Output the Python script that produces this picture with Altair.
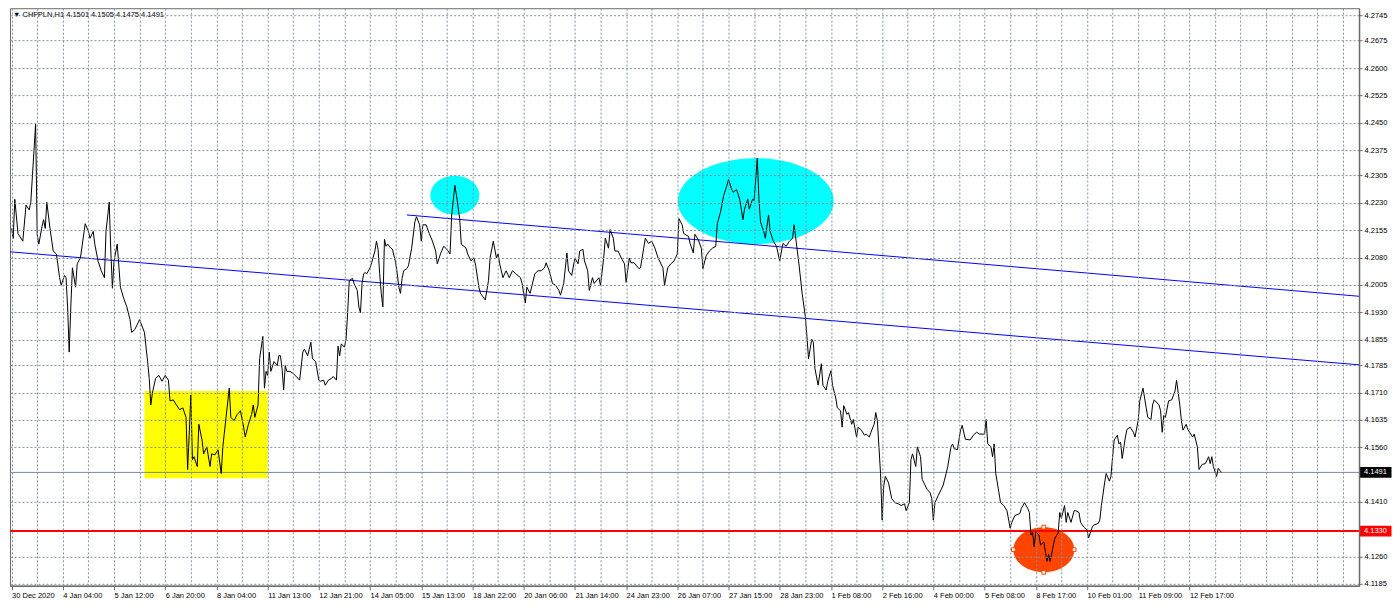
import altair as alt
import pandas as pd

# ---------------- data ----------------
symbol = "CHFPLN,H1"
last_bar_ohlc = [4.1501, 4.1505, 4.1475, 4.1491]

hour_index = [
    0, 1, 2, 4, 7, 9, 11, 12, 14, 15,
    16, 17, 19, 20, 21, 22, 24, 26, 28, 30,
    31, 33, 34, 35, 36, 37, 38, 40, 41, 43,
    46, 48, 49, 51, 52, 54, 56, 58, 59, 61,
    62, 63, 64, 66, 68, 70, 72, 74, 75, 77,
    80, 83, 85, 86, 87, 88, 90, 92, 94, 96,
    98, 99, 101, 103, 105, 107, 109, 110, 111, 112,
    113, 114, 116, 117, 119, 120, 122, 124, 125, 127,
    129, 131, 132, 134, 136, 137, 139, 141, 143, 145,
    146, 148, 150, 151, 152, 154, 155, 157, 158, 159,
    160, 161, 162, 164, 166, 167, 168, 169, 170, 171,
    172, 174, 176, 179, 180, 182, 183, 185, 186, 187,
    188, 190, 192, 193, 195, 196, 198, 200, 201, 203,
    204, 205, 206, 208, 209, 210, 211, 213, 214, 216,
    217, 218, 219, 220, 221, 222, 224, 225, 227, 228,
    229, 230, 231, 232, 233, 234, 235, 237, 238, 240,
    241, 242, 243, 244, 245, 247, 248, 250, 252, 253,
    255, 256, 257, 259, 261, 263, 265, 266, 268, 270,
    272, 274, 275, 277, 278, 280, 281, 284, 285, 287,
    289, 290, 292, 293, 296, 298, 299, 301, 303, 304,
    305, 307, 309, 311, 313, 315, 318, 319, 321, 322,
    324, 327, 329, 331, 333, 334, 336, 338, 340, 342,
    343, 345, 347, 348, 350, 352, 354, 355, 357, 358,
    360, 361, 363, 364, 367, 368, 370, 371, 373, 374,
    376, 377, 379, 381, 383, 384, 386, 387, 389, 392,
    393, 395, 396, 398, 400, 402, 404, 407, 408, 410,
    412, 414, 416, 417, 419, 420, 423, 424, 426, 427,
    429, 431, 432, 434, 436, 438, 440, 441, 443, 445,
    447, 448, 450, 451, 453, 455, 457, 458, 460, 461,
    463, 464, 466, 467, 468, 470, 471, 473, 474, 476,
    478, 480, 482, 484, 486, 488, 489, 491, 492, 494,
    496, 497, 498, 500, 501, 502, 504, 506, 507, 509,
    510, 512, 513, 515, 516, 518, 519, 520, 522, 523,
    525, 526, 528, 529, 531, 533, 534, 536, 537, 539,
    540, 541, 543, 544, 545, 546, 548, 550, 552, 554,
    556, 558, 559, 561, 562, 563, 565, 566, 568, 569,
    571, 572, 574, 575, 576, 577, 579, 581, 582, 584,
    585, 587, 588, 589, 591, 593, 594, 596, 599, 601,
    603, 605, 608, 609, 610, 612, 613, 614, 615, 617,
    618, 620, 622, 624, 625, 627, 630, 631, 633, 635,
    636, 637, 638, 639, 640, 642, 643, 645, 646, 647,
    648, 649, 651, 652, 654, 655, 656, 658, 659, 660,
    662, 664, 665, 667, 668, 670, 672, 673, 675, 676,
    679, 680, 681, 683, 684, 686, 687, 688, 689, 691,
    692, 693, 694, 696, 697, 699, 701, 702, 704, 705,
    707, 709, 710, 712, 713, 714, 717, 718, 719, 720,
    721, 723, 725, 727, 728, 730, 731, 732, 734, 735,
    738, 739, 741, 742, 744, 746, 748, 749, 750, 751,
    753, 754, 756,
]

close = [
    4.2160, 4.2133, 4.2240, 4.2146, 4.2125, 4.2224, 4.2211, 4.2232, 4.2374, 4.2447,
    4.2144, 4.2117, 4.2165, 4.2184, 4.2160, 4.2232, 4.2160, 4.2098, 4.2090, 4.2025,
    4.2004, 4.2031, 4.2025, 4.1945, 4.1821, 4.1945, 4.2052, 4.1999, 4.2063, 4.2079,
    4.2173, 4.2152, 4.2133, 4.2152, 4.2117, 4.2071, 4.2044, 4.2025, 4.2152, 4.2232,
    4.2098, 4.1996, 4.2071, 4.2117, 4.1999, 4.1969, 4.1945, 4.1910, 4.1875, 4.1883,
    4.1910, 4.1875, 4.1795, 4.1749, 4.1676, 4.1709, 4.1749, 4.1757, 4.1741, 4.1757,
    4.1744, 4.1687, 4.1690, 4.1676, 4.1663, 4.1668, 4.1642, 4.1499, 4.1596, 4.1703,
    4.1526, 4.1534, 4.1507, 4.1623, 4.1580, 4.1542, 4.1561, 4.1507, 4.1542, 4.1539,
    4.1553, 4.1488, 4.1561, 4.1642, 4.1722, 4.1642, 4.1633, 4.1650, 4.1660, 4.1615,
    4.1588, 4.1623, 4.1650, 4.1676, 4.1642, 4.1676, 4.1803, 4.1864, 4.1722, 4.1768,
    4.1757, 4.1821, 4.1768, 4.1795, 4.1784, 4.1811, 4.1811, 4.1776, 4.1717, 4.1784,
    4.1768, 4.1768, 4.1762, 4.1749, 4.1744, 4.1821, 4.1829, 4.1811, 4.1829, 4.1848,
    4.1803, 4.1795, 4.1744, 4.1741, 4.1744, 4.1730, 4.1744, 4.1749, 4.1754, 4.1744,
    4.1837, 4.1811, 4.1843, 4.1835, 4.1856, 4.1929, 4.2017, 4.2023, 4.2009, 4.1990,
    4.1945, 4.1929, 4.2009, 4.2036, 4.2039, 4.2036, 4.2052, 4.2066, 4.2098, 4.2125,
    4.2103, 4.2036, 4.1982, 4.1945, 4.2130, 4.2111, 4.2117, 4.2106, 4.2103, 4.2066,
    4.2036, 4.1999, 4.1982, 4.2023, 4.2044, 4.2050, 4.2058, 4.2106, 4.2178, 4.2192,
    4.2170, 4.2125, 4.2170, 4.2170, 4.2146, 4.2125, 4.2098, 4.2063, 4.2090, 4.2111,
    4.2103, 4.2090, 4.2197, 4.2278, 4.2251, 4.2187, 4.2117, 4.2106, 4.2090, 4.2071,
    4.2079, 4.2058, 4.1999, 4.1982, 4.1964, 4.2017, 4.2079, 4.2125, 4.2079, 4.2090,
    4.2063, 4.2025, 4.2044, 4.2025, 4.2044, 4.2036, 4.2025, 4.2009, 4.1956, 4.1999,
    4.1982, 4.2036, 4.2044, 4.2044, 4.2052, 4.2066, 4.2044, 4.2009, 4.2004, 4.1990,
    4.1977, 4.2009, 4.2093, 4.2044, 4.2031, 4.2079, 4.2063, 4.2098, 4.2103, 4.2071,
    4.2044, 4.1990, 4.2025, 4.2009, 4.2025, 4.2004, 4.2079, 4.2133, 4.2106, 4.2157,
    4.2133, 4.2098, 4.2098, 4.2079, 4.2063, 4.2012, 4.2079, 4.2066, 4.2066, 4.2050,
    4.2052, 4.2106, 4.2133, 4.2119, 4.2125, 4.2106, 4.2079, 4.2052, 4.2004, 4.2052,
    4.2063, 4.2071, 4.2090, 4.2187, 4.2170, 4.2146, 4.2138, 4.2119, 4.2093, 4.2144,
    4.2130, 4.2106, 4.2050, 4.2085, 4.2098, 4.2106, 4.2111, 4.2173, 4.2205, 4.2251,
    4.2278, 4.2294, 4.2267, 4.2259, 4.2267, 4.2240, 4.2184, 4.2213, 4.2240, 4.2213,
    4.2240, 4.2237, 4.2353, 4.2240, 4.2178, 4.2152, 4.2133, 4.2197, 4.2152, 4.2125,
    4.2111, 4.2071, 4.2119, 4.2111, 4.2125, 4.2133, 4.2170, 4.2098, 4.2063, 4.1982,
    4.1918, 4.1864, 4.1803, 4.1856, 4.1848, 4.1776, 4.1730, 4.1789, 4.1730, 4.1717,
    4.1741, 4.1770, 4.1730, 4.1695, 4.1668, 4.1660, 4.1615, 4.1674, 4.1650, 4.1655,
    4.1623, 4.1636, 4.1588, 4.1615, 4.1607, 4.1593, 4.1596, 4.1588, 4.1601, 4.1623,
    4.1655, 4.1633, 4.1488, 4.1360, 4.1454, 4.1480, 4.1462, 4.1419, 4.1408, 4.1405,
    4.1400, 4.1405, 4.1386, 4.1408, 4.1526, 4.1542, 4.1507, 4.1561, 4.1534, 4.1472,
    4.1454, 4.1445, 4.1435, 4.1419, 4.1360, 4.1408, 4.1427, 4.1445, 4.1454, 4.1488,
    4.1507, 4.1561, 4.1569, 4.1556, 4.1553, 4.1607, 4.1620, 4.1582, 4.1580, 4.1593,
    4.1601, 4.1596, 4.1596, 4.1636, 4.1569, 4.1561, 4.1534, 4.1569, 4.1488, 4.1435,
    4.1408, 4.1400, 4.1386, 4.1338, 4.1354, 4.1373, 4.1378, 4.1392, 4.1408, 4.1392,
    4.1381, 4.1319, 4.1327, 4.1287, 4.1327, 4.1319, 4.1292, 4.1300, 4.1274, 4.1247,
    4.1266, 4.1247, 4.1292, 4.1311, 4.1325, 4.1381, 4.1365, 4.1400, 4.1354, 4.1381,
    4.1354, 4.1386, 4.1386, 4.1381, 4.1354, 4.1341, 4.1333, 4.1311, 4.1338, 4.1346,
    4.1351, 4.1360, 4.1400, 4.1462, 4.1488, 4.1467, 4.1480, 4.1534, 4.1580, 4.1593,
    4.1569, 4.1574, 4.1529, 4.1588, 4.1609, 4.1615, 4.1601, 4.1588, 4.1633, 4.1687,
    4.1722, 4.1668, 4.1642, 4.1636, 4.1676, 4.1690, 4.1676, 4.1660, 4.1601, 4.1647,
    4.1642, 4.1687, 4.1690, 4.1714, 4.1744, 4.1676, 4.1633, 4.1607, 4.1623, 4.1609,
    4.1588, 4.1596, 4.1561, 4.1499, 4.1513, 4.1515, 4.1534, 4.1515, 4.1534, 4.1507,
    4.1480, 4.1502, 4.1491,
]
assert len(hour_index) == len(close)

x_tick_hours = list(range(0, 737, 32))
x_tick_labels = [
    "30 Dec 2020", "4 Jan 04:00", "5 Jan 12:00", "6 Jan 20:00", "8 Jan 04:00",
    "11 Jan 13:00", "12 Jan 21:00", "14 Jan 05:00", "15 Jan 13:00", "18 Jan 22:00",
    "20 Jan 06:00", "21 Jan 14:00", "24 Jan 23:00", "26 Jan 07:00", "27 Jan 15:00",
    "28 Jan 23:00", "1 Feb 08:00", "2 Feb 16:00", "4 Feb 00:00", "5 Feb 08:00",
    "8 Feb 17:00", "10 Feb 01:00", "11 Feb 09:00", "12 Feb 17:00",
]
grid_hours = list(range(0, 842, 16))
y_tick_values = [
    4.2745, 4.2675, 4.2600, 4.2525, 4.2450, 4.2375, 4.2305, 4.2230, 4.2155, 4.2080,
    4.2005, 4.1930, 4.1855, 4.1785, 4.1710, 4.1635, 4.1560, 4.1410, 4.1260, 4.1185,
]

channel_upper_hours = [247, 842]
channel_upper_price = [4.2197, 4.1974]
channel_lower_hours = [-1, 842]
channel_lower_price = [4.2096, 4.1786]

support_price = 4.1330
last_price = 4.1491

zone_hours = [83, 160]
zone_prices = [4.1475, 4.1714]

ellipse_hours = [277, 465, 645]
ellipse_prices = [4.2251, 4.2235, 4.1279]
ellipse_colors = ["#00FFFF", "#00FFFF", "#FF4500"]

handle_hours = [645, 645, 626, 664]
handle_prices = [4.1341, 4.1217, 4.1279, 4.1279]

# ---------------- style ----------------
W, H = 1350, 578
X_DOMAIN = [-1, 842]
Y_DOMAIN = [4.1180, 4.2764]
FONT = "Liberation Sans"
FS = 7.5
GRID = "#8391A0"
AXISC = "#6A6A6A"
ellipse_px = [(49, 39), (156, 86), (61, 45)]

xscale = alt.Scale(domain=X_DOMAIN, nice=False, zero=False)
yscale = alt.Scale(domain=Y_DOMAIN, nice=False, zero=False)


def ellipse_path(ratio):
    k = 0.5523
    r = ratio
    return (f"M-1,0C-1,{-k*r:.4f},{-k:.4f},{-r:.4f},0,{-r:.4f}"
            f"C{k:.4f},{-r:.4f},1,{-k*r:.4f},1,0"
            f"C1,{k*r:.4f},{k:.4f},{r:.4f},0,{r:.4f}"
            f"C{-k:.4f},{r:.4f},-1,{k*r:.4f},-1,0Z")


label_js = "[" + ",".join(f"'{s}'" for s in x_tick_labels) + "]"

grid_x_axis = alt.Axis(orient="bottom", values=grid_hours, grid=True, gridColor=GRID,
                       gridDash=[2, 2], gridWidth=1, labels=False, ticks=False,
                       domain=False, title=None, zindex=1)
label_x_axis = alt.Axis(orient="bottom", values=x_tick_hours,
                        labelExpr=f"{label_js}[round(datum.value/32)]",
                        grid=False, tickSize=4, tickColor=AXISC, domain=True,
                        domainColor=AXISC, domainWidth=1.5, labelAlign="left",
                        labelPadding=2, labelFont=FONT, labelFontSize=FS,
                        labelColor="#000000", labelOverlap=False, title=None)
y_axis = alt.Axis(orient="right", values=y_tick_values, format=".4f", grid=True,
                  gridColor=GRID, gridDash=[2, 2], gridWidth=1, tickSize=3,
                  tickColor=AXISC, domain=True, domainColor=AXISC, domainWidth=1.5,
                  labelFont=FONT, labelFontSize=FS, labelColor="#000000",
                  labelPadding=2, title=None, zindex=1)

price_df = pd.DataFrame({"hour": hour_index, "close": close})

zone = alt.Chart(pd.DataFrame({"h0": [zone_hours[0]], "h1": [zone_hours[1]],
                               "p0": [zone_prices[0]], "p1": [zone_prices[1]]})).mark_rect(
    color="#FFFF00", opacity=1).encode(
    x=alt.X("h0:Q", scale=xscale, axis=grid_x_axis),
    x2="h1:Q",
    y=alt.Y("p0:Q", scale=yscale, axis=y_axis),
    y2="p1:Q",
)

ellipses = []
for h, p, c, (wpx, hpx) in zip(ellipse_hours, ellipse_prices, ellipse_colors, ellipse_px):
    ellipses.append(
        alt.Chart(pd.DataFrame({"hour": [h], "price": [p]})).mark_point(
            shape=ellipse_path(hpx / wpx), size=wpx * wpx, filled=True,
            color=c, opacity=1, strokeWidth=0).encode(
            x=alt.X("hour:Q", scale=xscale, axis=None),
            y=alt.Y("price:Q", scale=yscale, axis=None),
        )
    )

channel_df = pd.DataFrame({
    "hour": channel_upper_hours + channel_lower_hours,
    "price": channel_upper_price + channel_lower_price,
    "line": ["upper", "upper", "lower", "lower"],
})
channel = alt.Chart(channel_df).mark_line(color="#0000FF", strokeWidth=1).encode(
    x=alt.X("hour:Q", scale=xscale, axis=None),
    y=alt.Y("price:Q", scale=yscale, axis=None),
    detail="line:N",
)

last_rule = alt.Chart(pd.DataFrame({"p": [last_price]})).mark_rule(
    color="#7A8899", strokeWidth=1).encode(y=alt.Y("p:Q", scale=yscale, axis=None))
support_rule = alt.Chart(pd.DataFrame({"p": [support_price]})).mark_rule(
    color="#FF0000", strokeWidth=2).encode(y=alt.Y("p:Q", scale=yscale, axis=None))

price_line = alt.Chart(price_df).mark_line(color="#000000", strokeWidth=1).encode(
    x=alt.X("hour:Q", scale=xscale, axis=label_x_axis),
    y=alt.Y("close:Q", scale=yscale, axis=None),
)

handles = alt.Chart(pd.DataFrame({"hour": handle_hours, "price": handle_prices})).mark_square(
    size=14, filled=True, fill="#FFFFFF", stroke="#FF4500", strokeWidth=1, opacity=1).encode(
    x=alt.X("hour:Q", scale=xscale, axis=None),
    y=alt.Y("price:Q", scale=yscale, axis=None),
)

box_df = pd.DataFrame({
    "p": [last_price, support_price],
    "label": [f"{last_price:.4f}", f"{support_price:.4f}"],
    "bg": ["#000000", "#FF0000"],
})
boxes = alt.Chart(box_df).mark_point(
    shape="M-1,-0.34L1,-0.34L1,0.34L-1,0.34Z", size=32 * 32, filled=True,
    opacity=1, strokeWidth=0).encode(
    x=alt.value(W + 16.5),
    y=alt.Y("p:Q", scale=yscale, axis=None),
    color=alt.Color("bg:N", scale=None),
)
box_text = alt.Chart(box_df).mark_text(
    align="left", baseline="middle", font=FONT, fontSize=FS, color="#FFFFFF").encode(
    x=alt.value(W + 5),
    y=alt.Y("p:Q", scale=yscale, axis=None),
    text="label:N",
)

header = "\u25BC " + symbol + "  " + " ".join(f"{v:.4f}" for v in last_bar_ohlc)
header_text = alt.Chart(pd.DataFrame({"t": [header]})).mark_text(
    align="left", baseline="middle", font=FONT, fontSize=FS, color="#000000").encode(
    x=alt.value(3), y=alt.value(7), text="t:N")

chart = alt.layer(
    zone, *ellipses, channel, last_rule, support_rule, price_line, handles,
    boxes, box_text, header_text,
).resolve_axis(x="independent", y="independent").properties(
    width=W, height=H, padding={"left": 0, "top": 0, "right": 0, "bottom": 0},
    background="#FFFFFF",
).configure_view(stroke="#6A6A6A", strokeWidth=1)

chart.save("out.html", embed_options={"renderer": "svg", "actions": False})
